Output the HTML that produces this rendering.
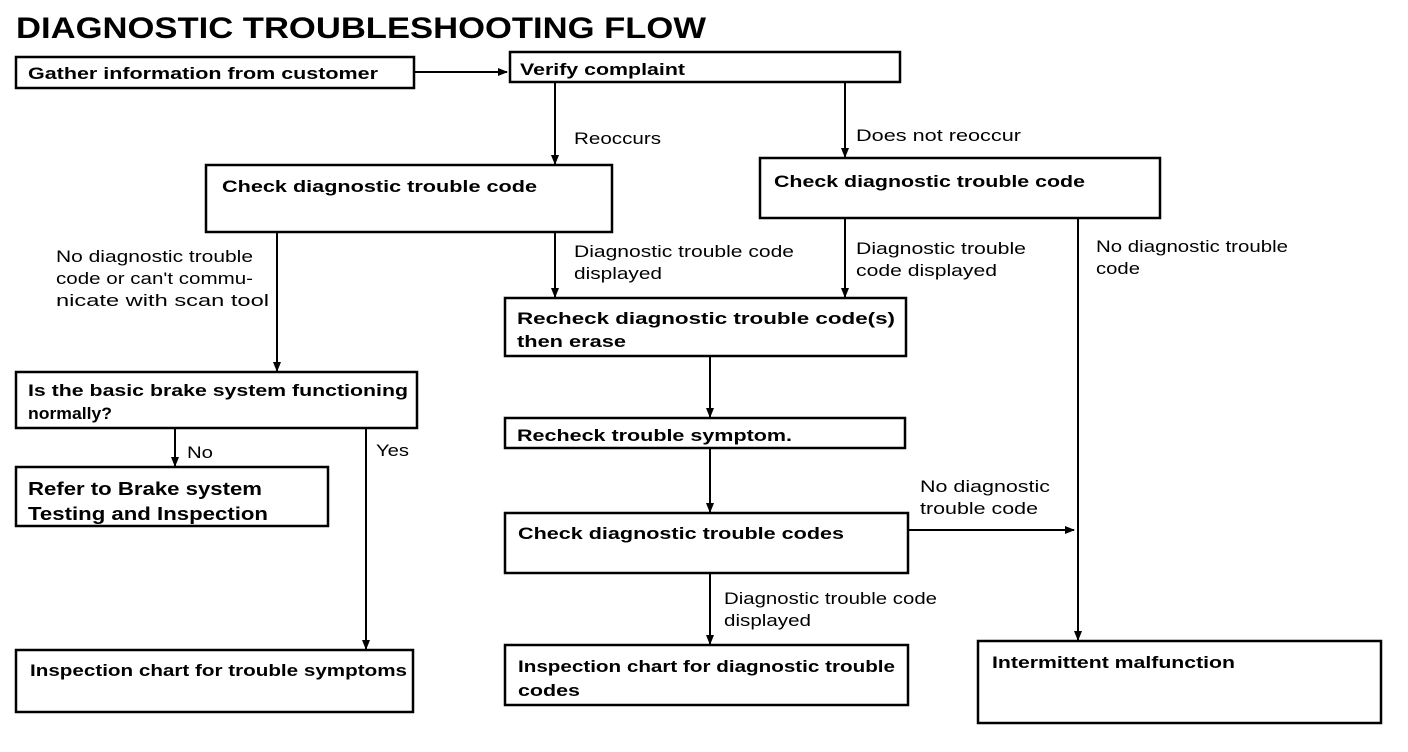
<!DOCTYPE html>
<html><head><style>
body{margin:0;background:#fff}
svg{display:block}
text{font-family:"Liberation Sans",Arial,sans-serif;fill:#000}
.b{font-weight:bold;font-size:17px}
.l{font-size:17px}
rect{fill:#fff;stroke:#000;stroke-width:2.5}
line{stroke:#000;stroke-width:2}
</style></head><body>
<svg width="1408" height="752" viewBox="0 0 1408 752">
<defs><marker id="a" markerWidth="10" markerHeight="10" refX="9" refY="5" orient="auto" markerUnits="userSpaceOnUse"><path d="M0,1 L10,5 L0,9z" fill="#000"/></marker></defs>
<text x="16" y="38" textLength="690" lengthAdjust="spacingAndGlyphs" style="font-weight:bold;font-size:30px">DIAGNOSTIC TROUBLESHOOTING FLOW</text>
<rect x="16" y="57" width="398" height="31"/><text class="b" x="28" y="79" textLength="350" lengthAdjust="spacingAndGlyphs">Gather information from customer</text>
<rect x="510" y="52" width="390" height="30"/><text class="b" x="520" y="75" textLength="165" lengthAdjust="spacingAndGlyphs">Verify complaint</text>
<rect x="206" y="165" width="406" height="67"/><text class="b" x="222" y="192" textLength="315" lengthAdjust="spacingAndGlyphs">Check diagnostic trouble code</text>
<rect x="760" y="158" width="400" height="60"/><text class="b" x="774" y="187" textLength="311" lengthAdjust="spacingAndGlyphs">Check diagnostic trouble code</text>
<rect x="505" y="298" width="401" height="58"/><text class="b" x="517" y="324" textLength="378" lengthAdjust="spacingAndGlyphs">Recheck diagnostic trouble code(s)</text><text class="b" x="517" y="347" textLength="109" lengthAdjust="spacingAndGlyphs">then erase</text>
<rect x="16" y="372" width="401" height="56"/><text class="b" x="28" y="396" textLength="380" lengthAdjust="spacingAndGlyphs">Is the basic brake system functioning</text><text class="b" x="28" y="419" textLength="84" lengthAdjust="spacingAndGlyphs">normally?</text>
<rect x="505" y="418" width="400" height="30"/><text class="b" x="517" y="441" textLength="275" lengthAdjust="spacingAndGlyphs">Recheck trouble symptom.</text>
<rect x="16" y="467" width="312" height="59"/><text class="b" x="28" y="495" style="font-size:18px" textLength="234" lengthAdjust="spacingAndGlyphs">Refer to Brake system</text><text class="b" x="28" y="520" style="font-size:18px" textLength="240" lengthAdjust="spacingAndGlyphs">Testing and Inspection</text>
<rect x="505" y="513" width="403" height="60"/><text class="b" x="518" y="539" textLength="326" lengthAdjust="spacingAndGlyphs">Check diagnostic trouble codes</text>
<rect x="16" y="650" width="397" height="62"/><text class="b" x="30" y="676" textLength="377" lengthAdjust="spacingAndGlyphs">Inspection chart for trouble symptoms</text>
<rect x="505" y="645" width="403" height="60"/><text class="b" x="518" y="672" textLength="377" lengthAdjust="spacingAndGlyphs">Inspection chart for diagnostic trouble</text><text class="b" x="518" y="696" textLength="62" lengthAdjust="spacingAndGlyphs">codes</text>
<rect x="978" y="641" width="403" height="82"/><text class="b" x="992" y="668" textLength="243" lengthAdjust="spacingAndGlyphs">Intermittent malfunction</text>
<line x1="414" y1="72" x2="507" y2="72" marker-end="url(#a)"/>
<line x1="555" y1="82" x2="555" y2="164" marker-end="url(#a)"/>
<line x1="845" y1="82" x2="845" y2="157" marker-end="url(#a)"/>
<line x1="277" y1="232" x2="277" y2="371" marker-end="url(#a)"/>
<line x1="555" y1="232" x2="555" y2="297" marker-end="url(#a)"/>
<line x1="845" y1="218" x2="845" y2="297" marker-end="url(#a)"/>
<line x1="1078" y1="218" x2="1078" y2="640" marker-end="url(#a)"/>
<line x1="710" y1="356" x2="710" y2="417" marker-end="url(#a)"/>
<line x1="710" y1="448" x2="710" y2="512" marker-end="url(#a)"/>
<line x1="175" y1="428" x2="175" y2="466" marker-end="url(#a)"/>
<line x1="366" y1="428" x2="366" y2="649" marker-end="url(#a)"/>
<line x1="710" y1="573" x2="710" y2="644" marker-end="url(#a)"/>
<line x1="908" y1="530" x2="1074" y2="530" marker-end="url(#a)"/>
<text class="l" x="574" y="144" textLength="87" lengthAdjust="spacingAndGlyphs">Reoccurs</text>
<text class="l" x="856" y="141" textLength="165" lengthAdjust="spacingAndGlyphs">Does not reoccur</text>
<text class="l" x="56" y="262" textLength="197" lengthAdjust="spacingAndGlyphs">No diagnostic trouble</text><text class="l" x="56" y="284" textLength="197" lengthAdjust="spacingAndGlyphs">code or can't commu-</text><text class="l" x="56" y="306" textLength="213" lengthAdjust="spacingAndGlyphs">nicate with scan tool</text>
<text class="l" x="574" y="257" textLength="220" lengthAdjust="spacingAndGlyphs">Diagnostic trouble code</text><text class="l" x="574" y="279" textLength="88" lengthAdjust="spacingAndGlyphs">displayed</text>
<text class="l" x="856" y="254" textLength="170" lengthAdjust="spacingAndGlyphs">Diagnostic trouble</text><text class="l" x="856" y="276" textLength="141" lengthAdjust="spacingAndGlyphs">code displayed</text>
<text class="l" x="1096" y="252" textLength="192" lengthAdjust="spacingAndGlyphs">No diagnostic trouble</text><text class="l" x="1096" y="274" textLength="44" lengthAdjust="spacingAndGlyphs">code</text>
<text class="l" x="187" y="458" textLength="26" lengthAdjust="spacingAndGlyphs">No</text><text class="l" x="376" y="456" textLength="33" lengthAdjust="spacingAndGlyphs">Yes</text>
<text class="l" x="920" y="492" textLength="130" lengthAdjust="spacingAndGlyphs">No diagnostic</text><text class="l" x="920" y="514" textLength="118" lengthAdjust="spacingAndGlyphs">trouble code</text>
<text class="l" x="724" y="604" textLength="213" lengthAdjust="spacingAndGlyphs">Diagnostic trouble code</text><text class="l" x="724" y="626" textLength="87" lengthAdjust="spacingAndGlyphs">displayed</text>
</svg>
</body></html>
